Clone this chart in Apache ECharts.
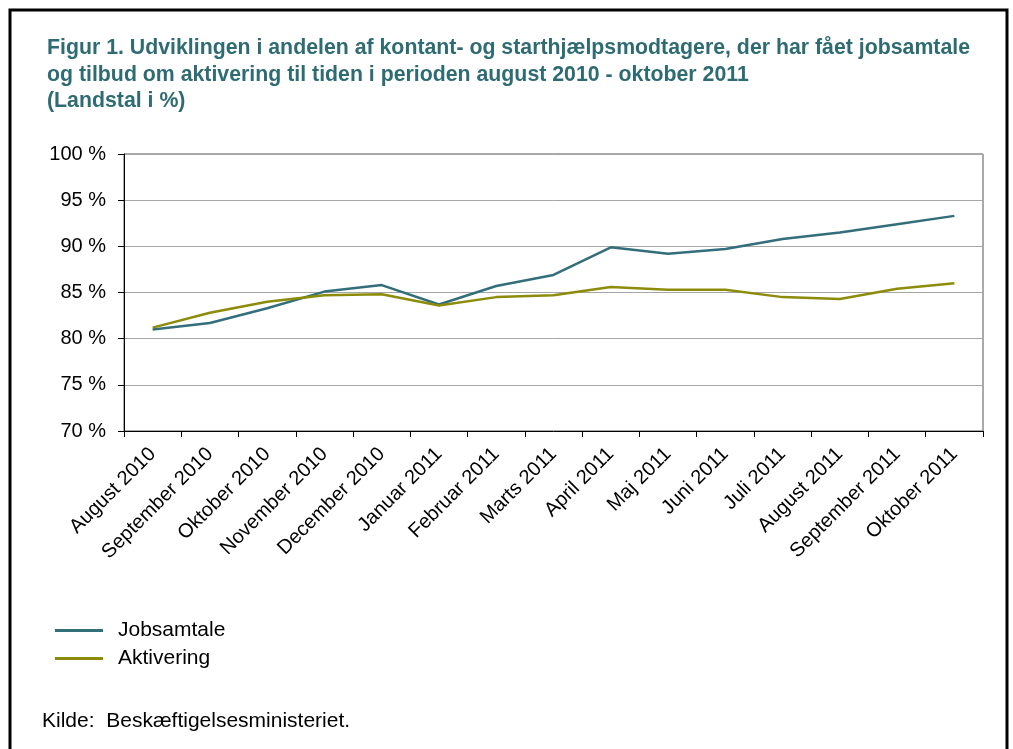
<!DOCTYPE html>
<html>
<head>
<meta charset="utf-8">
<script src="https://cdn.jsdelivr.net/npm/echarts@6/dist/echarts.min.js"></script>
<style>
  html, body { margin: 0; padding: 0; background: #fff; }
  #chart { width: 1013px; height: 749px; }
</style>
</head>
<body>
<div id="chart"></div>
<script>
  // data
  var months = ['August 2010', 'September 2010', 'Oktober 2010', 'November 2010', 'December 2010',
    'Januar 2011', 'Februar 2011', 'Marts 2011', 'April 2011', 'Maj 2011', 'Juni 2011',
    'Juli 2011', 'August 2011', 'September 2011', 'Oktober 2011'];
  var jobsamtale = [81.0, 81.7, 83.3, 85.1, 85.8, 83.7, 85.7, 86.9, 89.9, 89.2, 89.7, 90.8, 91.5, 92.4, 93.3];
  var aktivering = [81.2, 82.8, 84.0, 84.7, 84.8, 83.6, 84.5, 84.7, 85.6, 85.3, 85.3, 84.5, 84.3, 85.4, 86.0];
  var yTicks = [70, 75, 80, 85, 90, 95, 100];

  var font = 'Liberation Sans, Arial, sans-serif';
  var colors = ['#336e7b', '#8c8c0a'];

  var chart = echarts.init(document.getElementById('chart'));

  var option = {
    animation: false,
    textStyle: { fontFamily: font },
    title: {
      text: 'Figur 1. Udviklingen i andelen af kontant- og starthjælpsmodtagere, der har fået jobsamtale\nog tilbud om aktivering til tiden i perioden august 2010 - oktober 2011\n(Landstal i %)',
      left: 42,
      top: 30,
      textStyle: {
        fontFamily: font,
        fontSize: 21.3,
        fontWeight: 'bold',
        color: '#2e6b73',
        lineHeight: 26.5
      }
    },
    legend: {
      orient: 'vertical',
      left: 55,
      top: 620,
      padding: 0,
      icon: 'rect',
      itemWidth: 48,
      itemHeight: 3,
      itemGap: 7,
      textStyle: { fontSize: 21, color: '#000', padding: [0, 0, 0, 10] },
      data: ['Jobsamtale', 'Aktivering']
    },
    grid: {
      left: 124,
      right: 30,
      top: 154,
      bottom: 318,
      show: true,
      borderColor: '#555',
      borderWidth: 1
    },
    xAxis: {
      type: 'category',
      data: months,
      boundaryGap: true,
      axisLine: { lineStyle: { color: '#000', width: 1 } },
      axisTick: { show: true, length: 6, lineStyle: { color: '#000' } },
      axisLabel: {
        rotate: 45,
        interval: 0,
        fontSize: 20,
        color: '#000',
        margin: 20
      }
    },
    yAxis: {
      type: 'value',
      min: yTicks[0],
      max: yTicks[yTicks.length - 1],
      interval: 5,
      axisLine: { show: true, lineStyle: { color: '#000', width: 1 } },
      axisTick: { show: true, length: 6, lineStyle: { color: '#000' } },
      splitLine: { lineStyle: { color: '#a6a6a6', width: 1 } },
      axisLabel: {
        fontSize: 20,
        color: '#000',
        margin: 18,
        formatter: '{value} %'
      }
    },
    series: [
      {
        name: 'Jobsamtale',
        type: 'line',
        data: jobsamtale,
        symbol: 'none',
        lineStyle: { color: colors[0], width: 2.5 },
        itemStyle: { color: colors[0] }
      },
      {
        name: 'Aktivering',
        type: 'line',
        data: aktivering,
        symbol: 'none',
        lineStyle: { color: colors[1], width: 2.5 },
        itemStyle: { color: colors[1] }
      }
    ],
    graphic: [
      {
        type: 'rect',
        shape: { x: 10, y: 10, width: 997, height: 780 },
        style: { fill: 'none', stroke: '#000', lineWidth: 3 },
        silent: true
      },
      {
        type: 'text',
        left: 42,
        top: 711,
        style: {
          text: 'Kilde:  Beskæftigelsesministeriet.',
          font: '21px ' + font,
          fill: '#000'
        }
      }
    ]
  };

  chart.setOption(option);
</script>
</body>
</html>
